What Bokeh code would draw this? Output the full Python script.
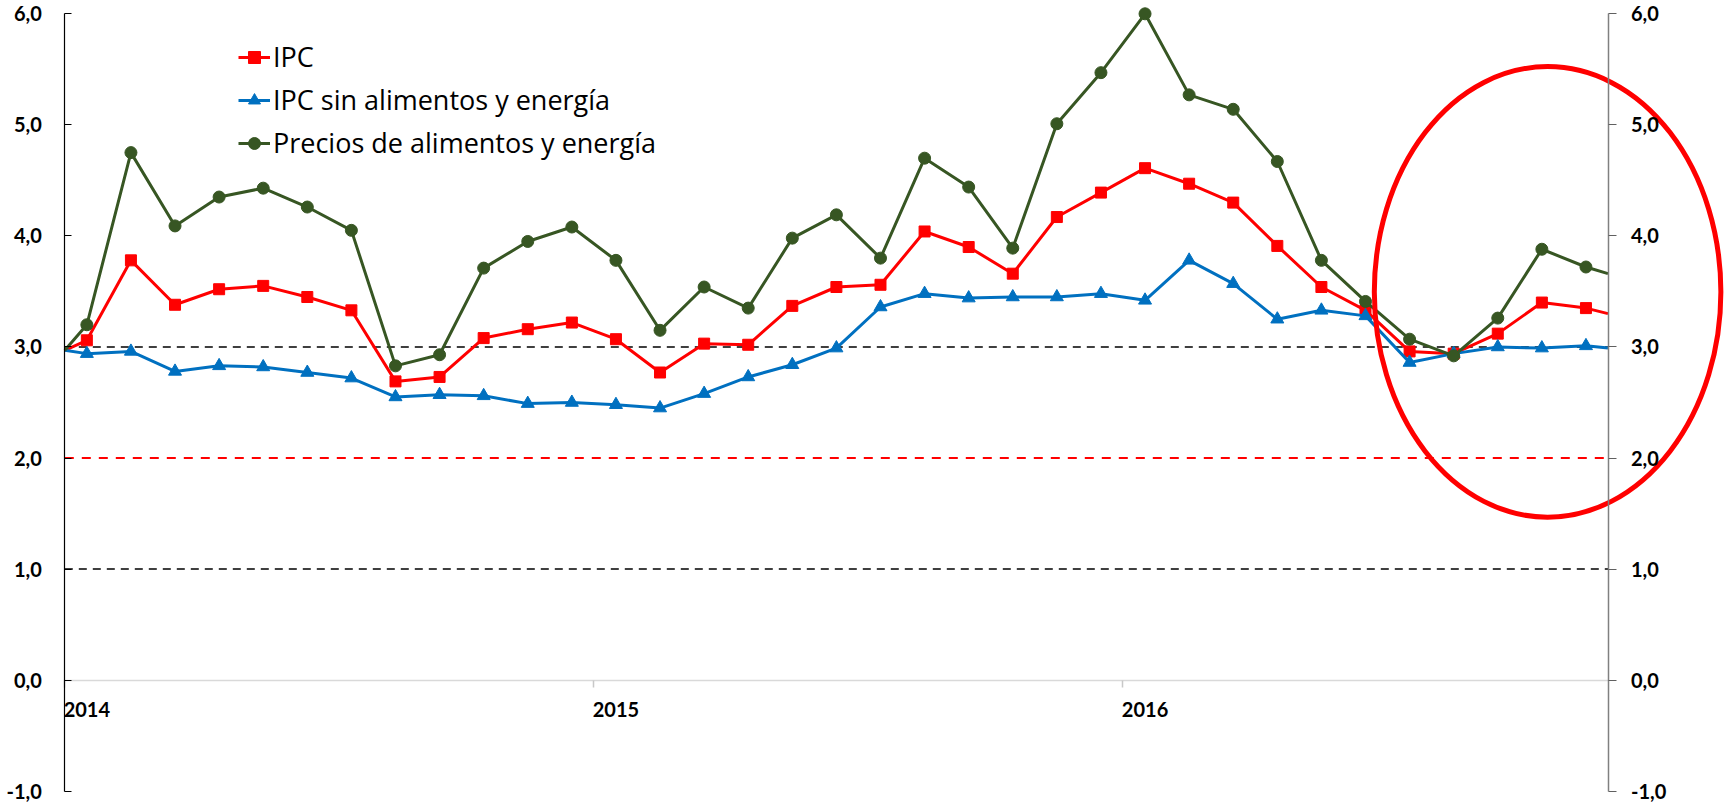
import numpy as np
from bokeh.plotting import figure
from bokeh.models import Range1d, LinearAxis, FixedTicker, Legend, LegendItem
from bokeh.embed import file_html
from bokeh.resources import INLINE

# ---------------- data ----------------
months = [f"{y}-{m:02d}" for y in (2014, 2015, 2016) for m in range(1, 13)][:35]
ipc = [3.06, 3.78, 3.38, 3.52, 3.55, 3.45, 3.33, 2.69, 2.73, 3.08, 3.16, 3.22,
       3.07, 2.77, 3.03, 3.02, 3.37, 3.54, 3.56, 4.04, 3.90, 3.66, 4.17, 4.39,
       4.61, 4.47, 4.30, 3.91, 3.54, 3.33, 2.96, 2.94, 3.12, 3.40, 3.35]
core = [2.94, 2.96, 2.78, 2.83, 2.82, 2.77, 2.72, 2.55, 2.57, 2.56, 2.49, 2.50,
        2.48, 2.45, 2.58, 2.73, 2.84, 2.99, 3.36, 3.48, 3.44, 3.45, 3.45, 3.48,
        3.42, 3.78, 3.57, 3.25, 3.33, 3.28, 2.86, 2.94, 3.00, 2.99, 3.01]
food_energy = [3.20, 4.75, 4.09, 4.35, 4.43, 4.26, 4.05, 2.83, 2.93, 3.71, 3.95, 4.08,
               3.78, 3.15, 3.54, 3.35, 3.98, 4.19, 3.80, 4.70, 4.44, 3.89, 5.01, 5.47,
               6.00, 5.27, 5.14, 4.67, 3.78, 3.41, 3.07, 2.92, 3.26, 3.88, 3.72]
# values where the lines meet the left and right axes
start_vals = {"ipc": 2.97, "core": 2.97, "fe": 2.97}
end_vals = {"ipc": 3.30, "core": 2.99, "fe": 3.66}

series_names = ["IPC", "IPC sin alimentos y energía", "Precios de alimentos y energía"]
year_labels = ["2014", "2015", "2016"]
y_ticks = [-1, 0, 1, 2, 3, 4, 5, 6]
y_tick_labels = ["-1,0", "0,0", "1,0", "2,0", "3,0", "4,0", "5,0", "6,0"]
ref_black = [3.0, 1.0]
ref_red = [2.0]

# ---------------- layout (pixels) ----------------
W, H = 1729, 806
PX_LEFT, PX_RIGHT = 64.3, 1607.5      # plot area left / right edge
PX_TOP, PX_BOTTOM = 13.3, 790.7       # y = 6 and y = -1
n = len(months)
ymin, ymax = -1.0, 6.0
ppx = (PX_RIGHT - PX_LEFT) / n
ppy = (PX_BOTTOM - PX_TOP) / (ymax - ymin)
x_range = Range1d(-PX_LEFT / ppx, n + (W - PX_RIGHT) / ppx)
y_range = Range1d(ymin - (H - PX_BOTTOM) / ppy, ymax + PX_TOP / ppy)

xs = list(np.arange(n) + 0.5)
x_line = [0.0] + xs + [float(n)]

p = figure(width=W, height=H, x_range=x_range, y_range=y_range,
           output_backend="svg", toolbar_location=None,
           x_axis_type=None, y_axis_type=None,
           min_border_left=0, min_border_right=0, min_border_top=0, min_border_bottom=0)
p.outline_line_color = None
p.xgrid.visible = False
p.ygrid.visible = False
p.background_fill_color = "white"
p.border_fill_color = "white"

TICK_FONT = "Lato"
overrides = {t: l for t, l in zip(y_ticks, y_tick_labels)}

# reference lines (drawn first, below series)
for v in ref_black:
    p.segment(x0=[0], y0=[v], x1=[n], y1=[v], line_color="black", line_width=1.5, line_dash="8 6")
for v in ref_red:
    p.segment(x0=[0], y0=[v], x1=[n], y1=[v], line_color="#ff0000", line_width=2, line_dash="9 8")

# left axis
yl = LinearAxis(ticker=FixedTicker(ticks=y_ticks, minor_ticks=[]), fixed_location=0,
                bounds=(ymin, ymax))
yl.major_label_overrides = overrides
yl.axis_line_color = "black"
yl.axis_line_width = 1.2
yl.major_tick_in = 7
yl.major_tick_out = 0
yl.major_tick_line_color = "black"
yl.major_label_standoff = 23
yl.major_label_text_font = TICK_FONT
yl.major_label_text_font_style = "bold"
yl.major_label_text_font_size = "20px"
yl.major_label_text_color = "black"
p.add_layout(yl, "left")

# right axis
yr = LinearAxis(ticker=FixedTicker(ticks=y_ticks, minor_ticks=[]), fixed_location=n,
                bounds=(ymin, ymax))
yr.major_label_overrides = overrides
yr.axis_line_color = "#808080"
yr.axis_line_width = 1.5
yr.major_tick_in = 0
yr.major_tick_out = 8
yr.major_tick_line_color = "#606060"
yr.major_label_standoff = 15
yr.major_label_text_font = TICK_FONT
yr.major_label_text_font_style = "bold"
yr.major_label_text_font_size = "20px"
yr.major_label_text_color = "black"
p.add_layout(yr, "right")

# x axis at zero
year_ticks = [12 * i + 0.5 for i in range(len(year_labels))]
year_bounds = [12 * i for i in range(len(year_labels))]
xa = LinearAxis(ticker=FixedTicker(ticks=year_ticks, minor_ticks=year_bounds), fixed_location=0,
                bounds=(0, n))
xa.major_label_overrides = {t: l for t, l in zip(year_ticks, year_labels)}
xa.axis_line_color = "#d9d9d9"
xa.axis_line_width = 1.5
xa.major_tick_line_color = None
xa.major_tick_in = 0
xa.major_tick_out = 7
xa.minor_tick_line_color = "#c8c8c8"
xa.minor_tick_line_width = 1.5
xa.minor_tick_in = 0
xa.minor_tick_out = 7
xa.major_label_standoff = 15
xa.major_label_text_font = TICK_FONT
xa.major_label_text_font_style = "bold"
xa.major_label_text_font_size = "20px"
xa.major_label_text_color = "black"
p.add_layout(xa, "below")

RED, BLUE, GREEN = "#ff0000", "#0070c0", "#375623"

l1 = p.line(x_line, [start_vals["ipc"]] + ipc + [end_vals["ipc"]], line_color=RED, line_width=3)
m1 = p.scatter(xs, ipc, marker="square", size=11, fill_color=RED, line_color=RED)
l2 = p.line(x_line, [start_vals["core"]] + core + [end_vals["core"]], line_color=BLUE, line_width=3)
m2 = p.scatter(xs, core, marker="triangle", size=13, fill_color=BLUE, line_color=BLUE)
l3 = p.line(x_line, [start_vals["fe"]] + food_energy + [end_vals["fe"]], line_color=GREEN, line_width=3)
m3 = p.scatter(xs, food_energy, marker="circle", size=12, fill_color=GREEN, line_color=GREEN)

legend = Legend(items=[LegendItem(label=series_names[0], renderers=[l1, m1]),
                       LegendItem(label=series_names[1], renderers=[l2, m2]),
                       LegendItem(label=series_names[2], renderers=[l3, m3])],
                location=(238, 645))
legend.border_line_color = None
legend.background_fill_alpha = 0
legend.padding = 0
legend.margin = 0
legend.spacing = 6
legend.glyph_width = 32
legend.glyph_height = 30
legend.label_height = 30
legend.label_standoff = 3
legend.label_text_font = "Open Sans"
legend.label_text_font_size = "27px"
legend.label_text_color = "black"
p.add_layout(legend)

# highlight ellipse around the latest months
ELL_CX, ELL_CY, ELL_RX, ELL_RY = 33.63, 3.496, 3.93, 2.03
p.ellipse(x=[ELL_CX], y=[ELL_CY], width=[2 * ELL_RX], height=[2 * ELL_RY],
          fill_color=None, line_color="#ff0000", line_width=5)

open("out.html", "w").write(file_html(p, INLINE))
